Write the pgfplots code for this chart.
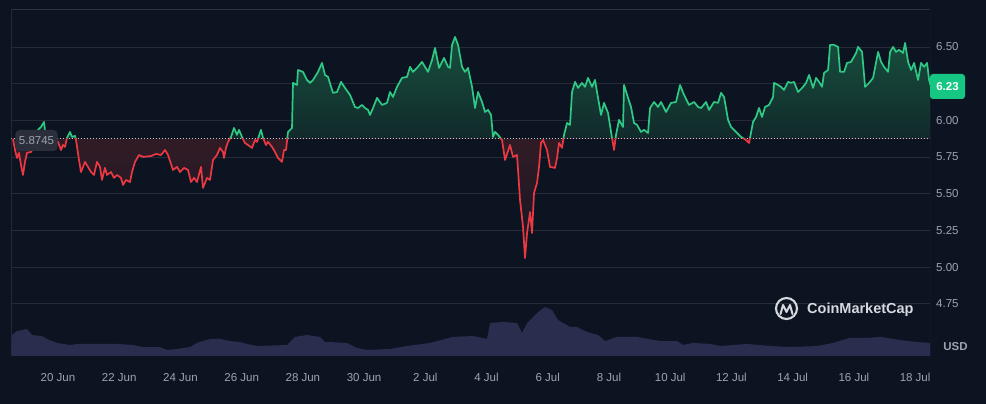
\documentclass[border=0pt]{standalone}
\usepackage{fontspec}
\setmainfont{Liberation Sans}
\usepackage{pgfplots}
\pgfplotsset{compat=1.18}
\usepackage{pgfplotstable}

\definecolor{bg}{HTML}{0D1421}
\definecolor{gridc}{HTML}{262B37}
\definecolor{framec}{HTML}{2E3340}
\definecolor{up}{HTML}{2FC986}
\definecolor{down}{HTML}{EA3943}
\definecolor{volc}{HTML}{292D4E}
\definecolor{tickc}{HTML}{9DA3AF}
\definecolor{gtop}{HTML}{17503E}
\definecolor{gmid}{HTML}{112629}
\definecolor{rmid}{HTML}{301B25}
\definecolor{rbot}{HTML}{141724}
\definecolor{tagg}{HTML}{16C784}
\definecolor{boxc}{HTML}{2A2F3B}
\definecolor{logoc}{HTML}{D5D8DE}
\definecolor{dotc}{HTML}{C8CCD4}

% price, day 0 = 20 Jun
\pgfplotstableread{
d p
-1.470 5.873
-1.405 5.798
-1.339 5.744
-1.274 5.778
-1.209 5.696
-1.143 5.628
-1.078 5.717
-1.013 5.778
-0.882 5.785
-0.751 5.832
-0.653 5.935
-0.555 5.955
-0.457 5.989
-0.392 5.873
-0.196 5.832
0.000 5.853
0.098 5.798
0.163 5.832
0.229 5.819
0.294 5.880
0.392 5.921
0.457 5.887
0.555 5.894
0.588 5.867
0.686 5.730
0.751 5.648
0.882 5.717
0.980 5.683
1.078 5.648
1.176 5.628
1.274 5.717
1.372 5.683
1.437 5.594
1.535 5.676
1.601 5.628
1.732 5.648
1.830 5.608
1.928 5.628
2.058 5.608
2.124 5.560
2.222 5.594
2.352 5.580
2.418 5.648
2.516 5.717
2.646 5.764
2.777 5.751
3.038 5.757
3.202 5.771
3.365 5.764
3.496 5.798
3.594 5.764
3.757 5.662
3.888 5.683
3.986 5.648
4.116 5.676
4.247 5.662
4.345 5.580
4.443 5.608
4.541 5.580
4.672 5.683
4.737 5.540
4.868 5.608
4.966 5.594
5.064 5.730
5.194 5.764
5.292 5.812
5.390 5.785
5.423 5.744
5.488 5.812
5.554 5.853
5.652 5.887
5.750 5.948
5.848 5.901
5.913 5.935
6.011 5.887
6.109 5.846
6.207 5.832
6.338 5.812
6.436 5.866
6.501 5.853
6.632 5.935
6.697 5.880
6.795 5.832
6.861 5.853
6.991 5.819
7.089 5.785
7.187 5.744
7.318 5.717
7.383 5.798
7.449 5.798
7.514 5.921
7.645 5.948
7.677 6.255
7.808 6.241
7.841 6.343
8.004 6.330
8.135 6.275
8.233 6.255
8.331 6.275
8.494 6.330
8.625 6.391
8.723 6.309
8.821 6.296
8.984 6.187
9.115 6.193
9.246 6.262
9.376 6.221
9.540 6.173
9.703 6.091
9.801 6.084
9.932 6.105
10.030 6.084
10.128 6.071
10.193 6.037
10.291 6.084
10.422 6.153
10.585 6.105
10.749 6.119
10.846 6.193
10.944 6.159
11.075 6.228
11.238 6.289
11.402 6.296
11.500 6.364
11.598 6.330
11.729 6.357
11.892 6.398
11.990 6.364
12.088 6.330
12.219 6.411
12.317 6.493
12.448 6.357
12.546 6.398
12.611 6.425
12.742 6.364
12.807 6.357
12.873 6.514
12.971 6.568
13.069 6.514
13.199 6.364
13.297 6.330
13.395 6.357
13.526 6.228
13.624 6.084
13.722 6.193
13.853 6.125
13.951 6.057
14.049 6.071
14.147 6.037
14.212 5.887
14.277 5.921
14.375 5.901
14.506 5.866
14.604 5.730
14.767 5.832
14.865 5.751
14.996 5.764
15.094 5.458
15.192 5.274
15.257 5.063
15.323 5.233
15.421 5.376
15.486 5.233
15.551 5.505
15.649 5.574
15.715 5.683
15.780 5.846
15.845 5.866
15.976 5.798
16.074 5.683
16.237 5.676
16.303 5.744
16.368 5.846
16.466 5.812
16.531 5.901
16.629 5.982
16.727 5.969
16.793 6.193
16.891 6.262
16.989 6.221
17.119 6.255
17.217 6.228
17.315 6.289
17.446 6.228
17.544 6.275
17.609 6.193
17.740 6.037
17.838 6.119
17.969 6.050
18.067 5.921
18.165 5.798
18.230 5.901
18.328 6.003
18.459 5.955
18.492 6.241
18.622 6.153
18.720 6.091
18.818 5.982
18.916 5.969
19.047 5.921
19.145 5.935
19.276 5.914
19.341 6.084
19.472 6.125
19.602 6.091
19.700 6.125
19.864 6.057
20.027 6.119
20.191 6.125
20.321 6.241
20.452 6.173
20.615 6.105
20.779 6.125
20.910 6.091
21.008 6.084
21.171 6.125
21.269 6.071
21.432 6.125
21.563 6.119
21.661 6.187
21.759 6.159
21.890 6.003
21.988 5.955
22.151 5.921
22.315 5.887
22.478 5.866
22.576 5.846
22.706 5.989
22.804 6.023
22.902 6.084
23.000 6.023
23.098 6.091
23.229 6.105
23.360 6.159
23.392 6.255
23.523 6.241
23.621 6.228
23.719 6.207
23.850 6.262
23.948 6.255
24.046 6.262
24.177 6.193
24.340 6.228
24.438 6.255
24.536 6.309
24.667 6.221
24.765 6.289
24.863 6.262
24.961 6.228
25.026 6.323
25.157 6.343
25.222 6.514
25.353 6.514
25.484 6.500
25.549 6.330
25.680 6.330
25.778 6.391
25.908 6.398
26.072 6.459
26.137 6.500
26.268 6.466
26.366 6.228
26.496 6.255
26.627 6.289
26.791 6.466
26.889 6.398
26.987 6.364
27.117 6.330
27.183 6.466
27.281 6.500
27.379 6.466
27.477 6.480
27.607 6.459
27.673 6.527
27.771 6.398
27.869 6.343
27.967 6.391
28.097 6.275
28.195 6.391
28.294 6.364
28.392 6.391
28.457 6.275
28.522 6.228
}\price

% volume band, drawn on the price scale
\pgfplotstableread{
d v
-1.503 4.538
-1.339 4.565
-1.013 4.579
-0.849 4.538
-0.523 4.531
-0.359 4.511
-0.033 4.484
0.392 4.470
0.653 4.477
1.699 4.477
1.928 4.477
2.450 4.470
2.777 4.456
3.332 4.456
3.561 4.436
3.888 4.443
4.312 4.456
4.541 4.484
4.966 4.511
5.292 4.511
5.619 4.497
5.946 4.490
6.175 4.477
6.501 4.463
7.482 4.470
7.743 4.525
8.135 4.538
8.560 4.525
8.723 4.490
8.886 4.490
9.442 4.484
9.769 4.450
10.095 4.436
10.846 4.443
11.402 4.463
12.153 4.484
12.905 4.525
13.558 4.531
14.016 4.511
14.114 4.620
14.538 4.627
14.996 4.620
15.159 4.552
15.323 4.620
15.649 4.688
15.911 4.729
16.140 4.708
16.336 4.640
16.727 4.593
16.956 4.593
17.282 4.559
17.642 4.538
17.870 4.497
18.263 4.525
18.916 4.525
19.668 4.497
20.223 4.497
20.419 4.470
20.746 4.484
21.301 4.477
21.628 4.463
22.510 4.477
23.262 4.463
23.915 4.456
24.797 4.463
25.320 4.484
25.875 4.518
26.430 4.518
26.855 4.525
27.508 4.504
28.064 4.490
28.522 4.484
}\vol

\begin{document}
\begin{tikzpicture}[x=1pt,y=1pt]
\useasboundingbox (0,0) rectangle (986,404);
\fill[bg] (0,0) rectangle (986,404);
\begin{axis}[
  scale only axis, width=918.5pt, height=346.5pt,
  anchor=south west, at={(11.5pt,48pt)},
  xmin=-1.519, xmax=28.487, ymin=4.395, ymax=6.755,
  axis line style={draw=none},
  ymajorgrids, grid style={gridc, line width=0.8pt},
  ytick={4.75,5,5.25,5.5,5.75,6,6.25,6.5},
  yticklabel pos=right,
  yticklabels={4.75,5.00,5.25,5.50,5.75,6.00,,6.50},
  yticklabel style={anchor=west, inner sep=0pt, xshift=6pt, font=\fontsize{11.5}{12}\selectfont, text=tickc},
  xtick={0,2,...,28},
  xticklabels={20 Jun,22 Jun,24 Jun,26 Jun,28 Jun,30 Jun,2 Jul,4 Jul,6 Jul,8 Jul,10 Jul,12 Jul,14 Jul,16 Jul,18 Jul},
  xticklabel style={anchor=north, inner sep=0pt, yshift=-17pt, font=\fontsize{11.5}{12}\selectfont, text=tickc},
  major tick length=0pt,
  tick style={draw=none},
  clip=true,
]
\draw[framec, line width=0.9pt] (rel axis cs:0,0) -- (rel axis cs:0,1) -- (rel axis cs:1,1) -- (rel axis cs:1,0);
\addplot[draw=none, fill=volc] table[x=d,y=v] {\vol} -- (axis cs:28.6,4.3) -- (axis cs:-1.6,4.3) -- cycle;
\begin{scope}
\clip (axis cs:-5,5.8745) rectangle (axis cs:35,7);
\addplot[draw=none, top color=gtop, bottom color=gmid, middle color=gmid] table[x=d,y=p] {\price} -- (axis cs:28.522,5.8745) -- (axis cs:-1.47,5.8745) -- cycle;
\end{scope}
\begin{scope}
\clip (axis cs:-5,4) rectangle (axis cs:35,5.8745);
\addplot[draw=none, top color=rmid, bottom color=rbot, middle color=rmid] table[x=d,y=p] {\price} -- (axis cs:28.522,5.8745) -- (axis cs:-1.47,5.8745) -- cycle;
\end{scope}
\draw[dotc, dash pattern=on 1pt off 2pt, line width=1pt] (axis cs:-1.519,5.8745) -- (axis cs:28.487,5.8745);
\begin{scope}
\clip (axis cs:-5,5.8745) rectangle (axis cs:35,7);
\addplot[up, line width=1.7pt, line join=round] table[x=d,y=p] {\price};
\end{scope}
\begin{scope}
\clip (axis cs:-5,4) rectangle (axis cs:35,5.8745);
\addplot[down, line width=1.7pt, line join=round] table[x=d,y=p] {\price};
\end{scope}
\end{axis}
% base price tag
\node[fill=boxc, rounded corners=4pt, text=tickc, font=\fontsize{11.5}{12}\selectfont, inner xsep=3.5pt, minimum height=21pt] at (36.5,263.5) {5.8745};
% last price tag
\node[fill=tagg, rounded corners=3pt, text=white, font=\bfseries\fontsize{11.5}{12}\selectfont, minimum width=35pt, minimum height=25pt, inner sep=0pt] at (947.5,317.5) {6.23};
% currency
\node[text=tickc, font=\bfseries\fontsize{11.5}{12}\selectfont, inner sep=0pt] at (955.5,57) {USD};
% watermark
\draw[logoc, line width=2.1pt] (786.5,95.5) circle (10.5);
\draw[logoc, line width=2pt, line join=round, line cap=round] (780.5,90) -- (783,99) -- (786.5,92) -- (790,99) -- (792.5,90);
\node[anchor=base west, text=logoc, font=\bfseries\fontsize{14.5}{16}\selectfont, inner sep=0pt] at (807,90) {CoinMarketCap};
\end{tikzpicture}
\end{document}
